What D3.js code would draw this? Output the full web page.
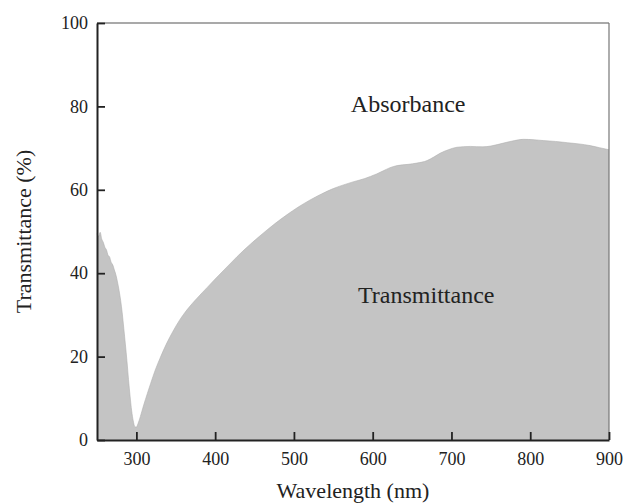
<!DOCTYPE html>
<html>
<head>
<meta charset="utf-8">
<script src="https://cdn.jsdelivr.net/npm/d3@7"></script>
<style>
  html, body { margin: 0; padding: 0; background: #fff; }
  svg { display: block; }
  text { font-family: "Liberation Serif", "Times New Roman", serif; fill: #222; }
</style>
</head>
<body>
<svg id="chart"></svg>
<script>
// Transmissionsspektrum (Wellenlänge in nm, Transmission in %)
const wavelengths = [
  250, 252, 254, 256, 258, 260, 262, 264, 266, 268, 270, 272, 274, 276, 278,
  280, 282, 284, 286, 288, 290, 292, 294, 296, 298, 300, 302, 305, 309, 314,
  318, 324, 330, 338, 346, 355, 365, 377, 390, 400, 415, 428, 445, 461, 476,
  491, 505, 520, 535, 550, 565, 575, 590, 597, 605, 614, 622, 631, 645, 656,
  669, 678, 686, 696, 707, 724, 740, 750, 766, 780, 791, 805, 817, 832, 847,
  862, 876, 888, 900
];
const transmittance = [
  49.5, 48.8, 49.8, 48.2, 47.4, 46.2, 45.6, 44.3, 43.9, 42.6, 42.0, 40.8, 39.6, 37.9, 35.9,
  33.5, 30.5, 26.8, 23.0, 19.0, 14.5, 10.5, 7.0, 4.6, 3.2, 3.1, 3.9, 5.6, 8.2, 11.2,
  13.5, 16.8, 19.6, 23.0, 25.9, 28.8, 31.4, 34.0, 36.6, 38.6, 41.5, 44.0, 47.0, 49.6, 51.9,
  54.0, 55.8, 57.5, 59.0, 60.3, 61.3, 61.9, 62.7, 63.2, 63.8, 64.6, 65.3, 65.8, 66.1, 66.4,
  67.0, 67.9, 68.8, 69.6, 70.2, 70.4, 70.3, 70.5, 71.2, 71.8, 72.1, 72.0, 71.8, 71.6, 71.3,
  71.0, 70.6, 70.1, 69.6
];
const xTicks = [300, 400, 500, 600, 700, 800, 900];
const yTicks = [0, 20, 40, 60, 80, 100];

const data = wavelengths.map((w, i) => ({ w, t: transmittance[i] }));

// Layout
const W = 626, H = 503;
const margin = { top: 23, right: 17, bottom: 63, left: 97 };
const width = W - margin.left - margin.right;
const height = H - margin.top - margin.bottom;

const svg = d3.select("#chart").attr("width", W).attr("height", H);
const g = svg.append("g").attr("transform", `translate(${margin.left},${margin.top})`);

// Scales
const x = d3.scaleLinear().domain([250, 900]).range([0, width]);
const y = d3.scaleLinear().domain([0, 100]).range([height, 0]);

// Fläche (Transmission)
const area = d3.area()
  .x(d => x(d.w))
  .y0(y(0))
  .y1(d => y(d.t))
  .curve(d3.curveMonotoneX);

g.append("path")
  .datum(data)
  .attr("d", area)
  .attr("fill", "#c4c4c4");

g.append("path")
  .datum(data)
  .attr("d", d3.line().x(d => x(d.w)).y(d => y(d.t)).curve(d3.curveMonotoneX))
  .attr("fill", "none")
  .attr("stroke", "#b0b0b0")
  .attr("stroke-width", 0.6);

// Rahmen oben/rechts
g.append("line")
  .attr("x1", 0).attr("x2", width).attr("y1", 0).attr("y2", 0)
  .attr("stroke", "#555").attr("stroke-width", 1.2);
g.append("line")
  .attr("x1", width).attr("x2", width).attr("y1", 0).attr("y2", height)
  .attr("stroke", "#777").attr("stroke-width", 1.2);

// Achsen
const xAxis = g.append("g")
  .attr("transform", `translate(0,${height})`)
  .call(d3.axisBottom(x).tickValues(xTicks).tickSize(-8).tickPadding(12).tickSizeOuter(0));

const yAxis = g.append("g")
  .call(d3.axisLeft(y).tickValues(yTicks).tickSize(-8).tickPadding(9).tickSizeOuter(0));

[xAxis, yAxis].forEach(ax => {
  ax.attr("font-family", null);
  ax.select(".domain").attr("stroke", "#222").attr("stroke-width", 2);
  ax.selectAll(".tick line").attr("stroke", "#222").attr("stroke-width", 1.8);
  ax.selectAll(".tick text")
    .attr("font-size", 18)
    .attr("fill", "#222");
});

// Achsentitel
g.append("text")
  .attr("x", width / 2)
  .attr("y", height + 58)
  .attr("text-anchor", "middle")
  .attr("font-size", 22)
  .text("Wavelength (nm)");

g.append("text")
  .attr("transform", "rotate(-90)")
  .attr("x", -height / 2)
  .attr("y", -66)
  .attr("text-anchor", "middle")
  .attr("font-size", 22)
  .text("Transmittance (%)");

// Beschriftungen im Diagramm
g.append("text")
  .attr("x", x(645))
  .attr("y", y(78.6))
  .attr("text-anchor", "middle")
  .attr("font-size", 24)
  .text("Absorbance");

g.append("text")
  .attr("x", x(668))
  .attr("y", y(32.9))
  .attr("text-anchor", "middle")
  .attr("font-size", 24)
  .text("Transmittance");
</script>
</body>
</html>
